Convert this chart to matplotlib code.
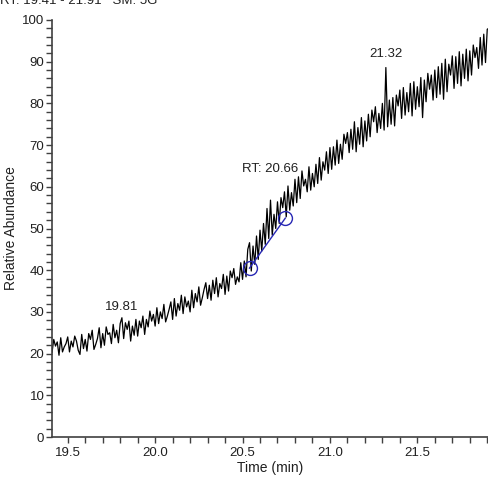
import numpy as np
import matplotlib
matplotlib.use("Agg")
import matplotlib.pyplot as plt
from matplotlib.ticker import MultipleLocator, FormatStrFormatter

plt.rcParams['font.family'] = ['Liberation Sans', 'DejaVu Sans']

# Chromatogram trace: one scan every 0.01 min from 19.41 to 21.91 min
t_start = 19.41
t_step = 0.01
abundance = [
    20.2, 23.4, 21.8, 22.8, 19.6, 23.8, 20.4, 21.6, 22.4, 24.0,
    20.4, 23.0, 21.6, 24.2, 23.0, 20.8, 19.8, 24.6, 21.2, 23.4,
    20.6, 24.8, 23.4, 25.6, 21.0, 22.2, 23.6, 26.2, 21.4, 24.8,
    22.0, 26.4, 24.6, 25.0, 22.4, 27.0, 23.8, 25.6, 22.6, 27.2,
    28.6, 23.6, 27.4, 25.8, 27.8, 23.0, 26.6, 24.4, 28.2, 24.2,
    27.8, 26.2, 29.0, 24.6, 28.2, 26.4, 30.2, 27.8, 29.4, 26.6,
    31.0, 27.2, 30.0, 28.4, 31.8, 27.6, 29.0, 30.6, 32.4, 28.2,
    33.2, 29.0, 32.0, 30.4, 34.0, 29.6, 33.6, 31.2, 32.6, 30.0,
    35.2, 31.0, 34.4, 32.4, 36.0, 31.6, 33.4, 35.4, 37.0, 33.2,
    36.4, 32.8, 37.6, 34.4, 38.2, 33.6, 36.8, 35.6, 39.0, 34.2,
    38.6, 35.0, 39.8, 38.2, 40.4, 36.6, 38.4, 37.2, 41.8, 37.8,
    42.2, 38.4, 45.0, 46.6, 39.8, 45.8, 41.4, 48.2, 42.6, 49.6,
    44.6, 51.2, 46.2, 54.8, 47.6, 56.8, 48.4, 53.4, 50.0, 56.4,
    51.2, 57.4, 55.0, 58.8, 52.8, 60.2, 54.4, 58.6, 55.4, 61.8,
    56.2, 62.4, 57.2, 63.8, 60.2, 61.8, 58.8, 64.8, 59.2, 63.2,
    60.0, 65.4, 60.8, 67.0, 61.6, 66.0, 64.0, 68.4, 63.2, 69.4,
    64.2, 69.6, 65.2, 71.2, 65.6, 70.2, 66.6, 72.6, 70.4, 73.0,
    68.2, 73.8, 69.0, 75.6, 68.4, 74.2, 70.2, 76.6, 69.6, 75.8,
    71.0, 77.4, 72.0, 78.4, 75.6, 79.2, 73.0, 77.6, 74.0, 80.0,
    73.6, 88.6, 74.4, 80.8, 75.0, 81.4, 74.6, 82.0, 79.4, 83.2,
    76.4, 83.8, 77.2, 82.6, 78.0, 84.8, 77.0, 85.2, 78.6, 84.0,
    79.2, 86.2, 76.6, 85.6, 80.4, 87.2, 83.4, 86.8, 80.8, 88.0,
    81.4, 88.8, 82.2, 89.6, 81.0, 90.6, 82.8, 89.4, 86.8, 91.4,
    83.6, 91.2, 84.8, 92.4, 84.2, 91.8, 86.0, 93.0, 85.4, 92.6,
    86.8, 94.0, 91.0, 93.4, 88.4, 95.8, 89.2, 96.6, 89.8, 97.8,
    98.0,
]
time = t_start + t_step * np.arange(len(abundance))

# Integrated peak boundaries
peak_times = [20.54, 20.745]
peak_levels = [40.5, 52.5]

# Labelled scans: (time, label text, label height)
labels_t = [19.81, 20.66, 21.32]
labels_txt = ["19.81", "RT: 20.66", "21.32"]
labels_y = [29.8, 62.8, 90.3]

x_range = (19.41, 21.91)
header = "RT: 19.41 - 21.91   SM: 5G"

fig = plt.figure(figsize=(4.89, 4.80), dpi=100)
ax = fig.add_axes([52 / 489, 1 - 437 / 480, 1 - 52 / 489, (437 - 20) / 480])

ax.plot(time, abundance, color='black', lw=0.9)
ax.plot(peak_times, peak_levels, color='#2828b4', lw=1.0,
        marker='o', markersize=10, markerfacecolor='none',
        markeredgecolor='#2828b4', markeredgewidth=1.0)

for t, txt, y in zip(labels_t, labels_txt, labels_y):
    ax.text(t, y, txt, ha='center', va='bottom', fontsize=9.5, color='#202020')

ax.set_xlim(*x_range)
ax.set_ylim(0, 100)

for side in ('top', 'right'):
    ax.spines[side].set_visible(False)
for side in ('left', 'bottom'):
    ax.spines[side].set_color('#404040')
    ax.spines[side].set_linewidth(1.2)

ax.xaxis.set_major_locator(MultipleLocator(0.5))
ax.xaxis.set_minor_locator(MultipleLocator(0.1))
ax.yaxis.set_major_locator(MultipleLocator(10))
ax.yaxis.set_minor_locator(MultipleLocator(2))
ax.xaxis.set_major_formatter(FormatStrFormatter('%.1f'))

ax.tick_params(which='major', length=4.5, width=1.0, color='#404040',
               labelsize=9.5, labelcolor='#202020', pad=1)
ax.tick_params(which='minor', length=4.0, width=1.0, color='#404040')
ax.tick_params(axis='x', which='major', pad=3)

ax.set_xlabel("Time (min)", fontsize=10, color='#202020', labelpad=1)
ax.set_ylabel("Relative Abundance", fontsize=10, color='#202020', labelpad=3)

fig.text(0.0, 1 - 4 / 480, header, ha='left', va='baseline',
         fontsize=9.5, color='#202020')

fig.savefig("out.png", dpi=100)
